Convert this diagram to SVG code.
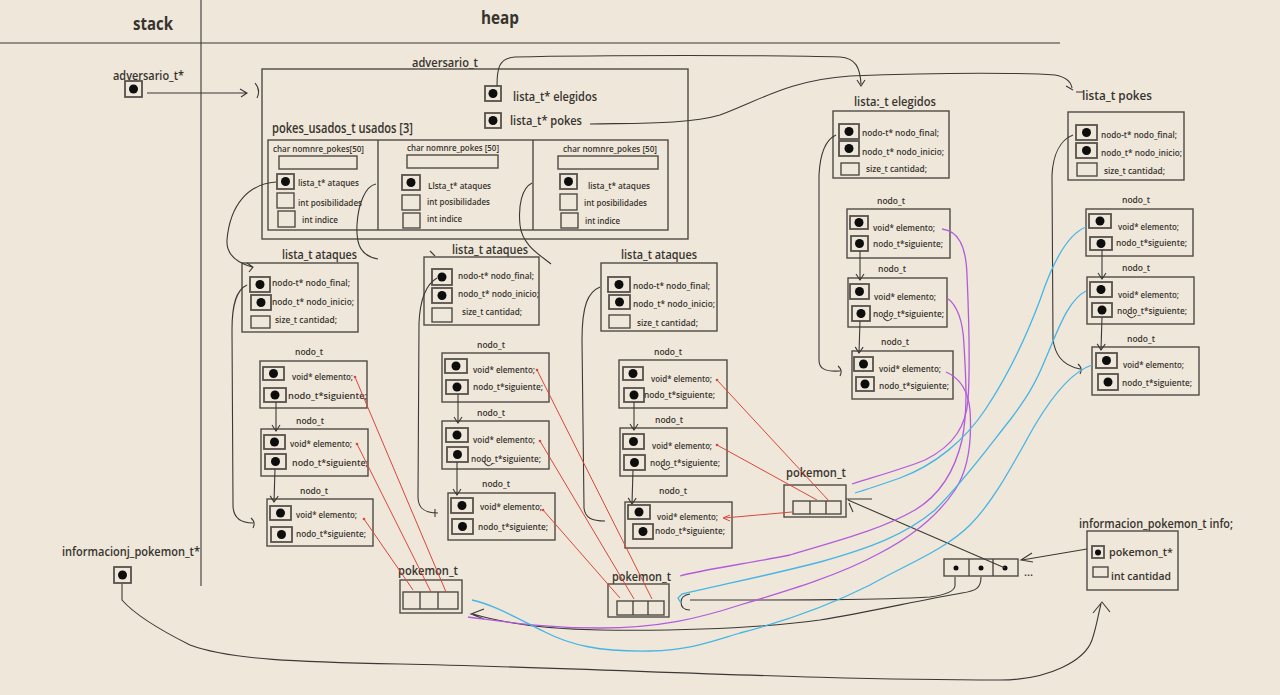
<svg xmlns="http://www.w3.org/2000/svg" width="1280" height="695" viewBox="0 0 1280 695">
<defs>
<style>
.t{font-family:"Open Sans","Noto Sans","Liberation Sans",sans-serif;fill:#37342f;font-weight:600}
.s{font-size:8.5px}
.m{font-size:12.5px}
.L{font-size:17px;font-weight:700}
.b{fill:none;stroke:#4f4b45;stroke-width:1.4}
.db{fill:none;stroke:#57524c;stroke-width:1.8}
.d{fill:#0d0d0d}
.c{fill:none;stroke:#3b3935;stroke-width:1.1}
.r{fill:none;stroke:#d9473c;stroke-width:1}
.rd{fill:#d9473c}
.p{fill:none;stroke:#b25cdc;stroke-width:1.3}
.u{fill:none;stroke:#46b5e6;stroke-width:1.3}
</style>
<marker id="ch" viewBox="-8 -5 10 10" refX="0" refY="0" markerWidth="10" markerHeight="10" markerUnits="userSpaceOnUse" orient="auto"><path d="M-6,-4 L0,0 L-6,4" fill="none" stroke="#3b3935" stroke-width="1.1"/></marker>
</defs>
<rect width="1280" height="695" fill="#efe7d9"/>

<g id="frame">
<path class="c" d="M0,43 L1060,43" stroke-width="1.3"/>
<path class="c" d="M201,0 L201,586" stroke-width="1.3"/>
<text class="t L" x="133" y="30" textLength="40" lengthAdjust="spacingAndGlyphs">stack</text>
<text class="t L" x="481" y="24" textLength="38" lengthAdjust="spacingAndGlyphs">heap</text>
</g>

<g id="stack-adversario">
<text class="t m" x="113" y="80" textLength="71" lengthAdjust="spacingAndGlyphs">adversario_t*</text>
<rect class="db" x="125" y="81" width="17" height="16"/><circle class="d" cx="133.5" cy="89" r="4.5"/>
</g>
<g id="stack-info">
<text class="t m" x="62" y="556" textLength="138" lengthAdjust="spacingAndGlyphs">informacionj_pokemon_t*</text>
<rect class="db" x="114" y="567" width="17" height="16"/><circle class="d" cx="122.5" cy="575" r="4.5"/>
</g>

<g id="adversario">
<text class="t m" x="412" y="67" textLength="66" lengthAdjust="spacingAndGlyphs">adversario_t</text>
<rect class="b" x="262" y="69" width="426" height="170"/>
<rect class="db" x="485" y="86" width="16" height="15"/><circle class="d" cx="493" cy="93.5" r="4.5"/>
<text class="t" font-size="12" x="513" y="101" textLength="84" lengthAdjust="spacingAndGlyphs">lista_t* elegidos</text>
<rect class="db" x="485" y="113" width="16" height="15"/><circle class="d" cx="493" cy="120.5" r="4.5"/>
<text class="t" font-size="12" x="510" y="125" textLength="72" lengthAdjust="spacingAndGlyphs">lista_t* pokes</text>
<text class="t" font-size="13.5" x="272" y="133" textLength="141" lengthAdjust="spacingAndGlyphs">pokes_usados_t usados [3]</text>
<rect class="b" x="268" y="140" width="400" height="90"/>
<path class="b" d="M378,140 L378,230 M533,140 L533,230"/>
<text class="t s" x="273" y="152" textLength="91" lengthAdjust="spacingAndGlyphs">char nomnre_pokes[50]</text>
<rect class="b" x="279" y="156" width="78" height="13"/>
<rect class="db" x="277" y="174" width="17" height="15"/><circle class="d" cx="285.5" cy="181.5" r="4.5"/>
<text class="t s" x="298" y="186" textLength="61" lengthAdjust="spacingAndGlyphs">lista_t* ataques</text>
<rect class="b" x="277" y="193" width="17" height="15"/>
<text class="t s" x="298" y="206" textLength="64" lengthAdjust="spacingAndGlyphs">int posibilidades</text>
<rect class="b" x="278" y="211" width="17" height="16"/>
<text class="t s" x="302" y="223" textLength="36" lengthAdjust="spacingAndGlyphs">int indice</text>
<text class="t s" x="407" y="151" textLength="92" lengthAdjust="spacingAndGlyphs">char nomnre_pokes [50]</text>
<rect class="b" x="407" y="155" width="91" height="13"/>
<rect class="db" x="402" y="175" width="18" height="15"/><circle class="d" cx="411" cy="182.5" r="4.5"/>
<text class="t s" x="428" y="189" textLength="63" lengthAdjust="spacingAndGlyphs">Llsta_t* ataques</text>
<rect class="b" x="402" y="195" width="18" height="15"/>
<text class="t s" x="427" y="205" textLength="63" lengthAdjust="spacingAndGlyphs">int posibilidades</text>
<rect class="b" x="403" y="213" width="17" height="15"/>
<text class="t s" x="427" y="222" textLength="35" lengthAdjust="spacingAndGlyphs">int indice</text>
<text class="t s" x="563" y="152" textLength="94" lengthAdjust="spacingAndGlyphs">char nomnre_pokes [50]</text>
<rect class="b" x="558" y="156" width="100" height="13"/>
<rect class="db" x="560" y="174" width="17" height="15"/><circle class="d" cx="568.5" cy="181.5" r="4.5"/>
<text class="t s" x="588" y="189" textLength="62" lengthAdjust="spacingAndGlyphs">lista_t* ataques</text>
<rect class="b" x="560" y="194" width="17" height="16"/>
<text class="t s" x="584" y="206" textLength="63" lengthAdjust="spacingAndGlyphs">int posibilidades</text>
<rect class="b" x="561" y="213" width="17" height="15"/>
<text class="t s" x="585" y="224" textLength="35" lengthAdjust="spacingAndGlyphs">int indice</text>
</g>

<g id="lista-ataques-1">
<text class="t m" x="282" y="259" textLength="75" lengthAdjust="spacingAndGlyphs">lista_t ataques</text>
<rect class="b" x="242" y="263" width="116" height="69"/>
<rect class="db" x="250" y="277" width="20" height="15"/><circle class="d" cx="260" cy="284.5" r="4.5"/>
<text class="t s" x="272" y="286" textLength="78" lengthAdjust="spacingAndGlyphs">nodo-t* nodo_final;</text>
<rect class="db" x="251" y="295" width="20" height="15"/><circle class="d" cx="261" cy="302.5" r="4.5"/>
<text class="t s" x="272" y="305" textLength="82" lengthAdjust="spacingAndGlyphs">nodo_t* nodo_inicio;</text>
<rect class="b" x="251" y="316" width="19" height="12"/>
<text class="t s" x="275" y="323" textLength="62" lengthAdjust="spacingAndGlyphs">size_t cantidad;</text>
</g>
<g id="nodo-1a">
<text class="t s" x="295" y="355" textLength="28" lengthAdjust="spacingAndGlyphs">nodo_t</text>
<rect class="b" x="260" y="361" width="107" height="47"/>
<rect class="db" x="263" y="367" width="21" height="13"/><circle class="d" cx="273.5" cy="373.5" r="4.5"/>
<text class="t s" x="292" y="380" textLength="61" lengthAdjust="spacingAndGlyphs">void* elemento;</text>
<rect class="db" x="264" y="388" width="22" height="14"/><circle class="d" cx="275" cy="395" r="4.5"/>
<text class="t s" x="288" y="399" textLength="79" lengthAdjust="spacingAndGlyphs">nodo_t*siguiente;</text>
</g>
<g id="nodo-1b">
<text class="t s" x="296" y="424" textLength="28" lengthAdjust="spacingAndGlyphs">nodo_t</text>
<rect class="b" x="261" y="429" width="107" height="47"/>
<rect class="db" x="264" y="435" width="21" height="14"/><circle class="d" cx="274.5" cy="442" r="4.5"/>
<text class="t s" x="290" y="447" textLength="62" lengthAdjust="spacingAndGlyphs">void* elemento;</text>
<rect class="db" x="265" y="454" width="21" height="15"/><circle class="d" cx="275.5" cy="461.5" r="4.5"/>
<text class="t s" x="292" y="466" textLength="76" lengthAdjust="spacingAndGlyphs">nodo_t*siguiente;</text>
</g>
<g id="nodo-1c">
<text class="t s" x="300" y="494" textLength="28" lengthAdjust="spacingAndGlyphs">nodo_t</text>
<rect class="b" x="267" y="499" width="106" height="47"/>
<rect class="db" x="270" y="506" width="21" height="14"/><circle class="d" cx="280.5" cy="513" r="4.5"/>
<text class="t s" x="296" y="518" textLength="61" lengthAdjust="spacingAndGlyphs">void* elemento;</text>
<rect class="db" x="271" y="527" width="21" height="15"/><circle class="d" cx="281.5" cy="534.5" r="4.5"/>
<text class="t s" x="296" y="537" textLength="70" lengthAdjust="spacingAndGlyphs">nodo_t*siguiente;</text>
</g>

<g id="lista-ataques-2">
<text class="t m" x="452" y="254" textLength="76" lengthAdjust="spacingAndGlyphs">lista_t ataques</text>
<rect class="b" x="424" y="257" width="115" height="68"/>
<rect class="db" x="432" y="269" width="20" height="16"/><circle class="d" cx="442" cy="277" r="4.5"/>
<text class="t s" x="458" y="279" textLength="76" lengthAdjust="spacingAndGlyphs">nodo-t* nodo_final;</text>
<rect class="db" x="432" y="288" width="20" height="15"/><circle class="d" cx="442" cy="295.5" r="4.5"/>
<text class="t s" x="458" y="297" textLength="81" lengthAdjust="spacingAndGlyphs">nodo_t* nodo_inicio;</text>
<rect class="b" x="432" y="308" width="20" height="14"/>
<text class="t s" x="462" y="315" textLength="60" lengthAdjust="spacingAndGlyphs">size_t cantidad;</text>
</g>
<g id="nodo-2a">
<text class="t s" x="477" y="348" textLength="28" lengthAdjust="spacingAndGlyphs">nodo_t</text>
<rect class="b" x="442" y="353" width="107" height="49"/>
<rect class="db" x="445" y="359" width="22" height="14"/><circle class="d" cx="456" cy="366" r="4.5"/>
<text class="t s" x="473" y="373" textLength="62" lengthAdjust="spacingAndGlyphs">void* elemento;</text>
<rect class="db" x="446" y="380" width="22" height="14"/><circle class="d" cx="457" cy="387" r="4.5"/>
<text class="t s" x="473" y="390" textLength="70" lengthAdjust="spacingAndGlyphs">nodo_t*siguiente;</text>
</g>
<g id="nodo-2b">
<text class="t s" x="477" y="416" textLength="28" lengthAdjust="spacingAndGlyphs">nodo_t</text>
<rect class="b" x="442" y="421" width="107" height="48"/>
<rect class="db" x="446" y="428" width="22" height="14"/><circle class="d" cx="457" cy="435" r="4.5"/>
<text class="t s" x="473" y="443" textLength="62" lengthAdjust="spacingAndGlyphs">void* elemento;</text>
<rect class="db" x="447" y="447" width="21" height="15"/><circle class="d" cx="457.5" cy="454.5" r="4.5"/>
<text class="t s" x="471" y="462" textLength="70" lengthAdjust="spacingAndGlyphs">nodo_t*siguiente;</text>
<path class="c" d="M484,462 Q488,469 493,463" stroke-width="0.8"/>
</g>
<g id="nodo-2c">
<text class="t s" x="482" y="487" textLength="28" lengthAdjust="spacingAndGlyphs">nodo_t</text>
<rect class="b" x="448" y="493" width="107" height="47"/>
<rect class="db" x="451" y="498" width="22" height="15"/><circle class="d" cx="462" cy="505.5" r="4.5"/>
<text class="t s" x="480" y="510" textLength="62" lengthAdjust="spacingAndGlyphs">void* elemento;</text>
<rect class="db" x="452" y="519" width="21" height="15"/><circle class="d" cx="462.5" cy="526.5" r="4.5"/>
<text class="t s" x="478" y="530" textLength="70" lengthAdjust="spacingAndGlyphs">nodo_t*siguiente;</text>
</g>

<g id="lista-ataques-3">
<text class="t m" x="621" y="259" textLength="76" lengthAdjust="spacingAndGlyphs">lista_t ataques</text>
<rect class="b" x="601" y="263" width="116" height="68"/>
<rect class="db" x="608" y="277" width="22" height="15"/><circle class="d" cx="619" cy="284.5" r="4.5"/>
<text class="t s" x="633" y="289" textLength="77" lengthAdjust="spacingAndGlyphs">nodo-t* nodo_final;</text>
<rect class="db" x="609" y="295" width="21" height="14"/><circle class="d" cx="619.5" cy="302" r="4.5"/>
<text class="t s" x="633" y="307" textLength="82" lengthAdjust="spacingAndGlyphs">nodo_t* nodo_inicio;</text>
<rect class="b" x="609" y="315" width="21" height="13"/>
<text class="t s" x="637" y="326" textLength="61" lengthAdjust="spacingAndGlyphs">size_t cantidad;</text>
</g>
<g id="nodo-3a">
<text class="t s" x="654" y="355" textLength="28" lengthAdjust="spacingAndGlyphs">nodo_t</text>
<rect class="b" x="619" y="360" width="108" height="48"/>
<rect class="db" x="623" y="367" width="20" height="13"/><circle class="d" cx="633" cy="373.5" r="4.5"/>
<text class="t s" x="651" y="382" textLength="61" lengthAdjust="spacingAndGlyphs">void* elemento;</text>
<rect class="db" x="624" y="388" width="20" height="14"/><circle class="d" cx="634" cy="395" r="4.5"/>
<text class="t s" x="644" y="398" textLength="71" lengthAdjust="spacingAndGlyphs">nodo_t*siguiente;</text>
</g>
<g id="nodo-3b">
<text class="t s" x="655" y="423" textLength="28" lengthAdjust="spacingAndGlyphs">nodo_t</text>
<rect class="b" x="620" y="428" width="107" height="48"/>
<rect class="db" x="623" y="434" width="21" height="15"/><circle class="d" cx="633.5" cy="441.5" r="4.5"/>
<text class="t s" x="652" y="449" textLength="60" lengthAdjust="spacingAndGlyphs">void* elemento;</text>
<rect class="db" x="624" y="455" width="21" height="15"/><circle class="d" cx="634.5" cy="462.5" r="4.5"/>
<text class="t s" x="650" y="466" textLength="70" lengthAdjust="spacingAndGlyphs">nodo_t*siguiente;</text>
<path class="c" d="M661,466 Q665,473 670,467" stroke-width="0.8"/>
</g>
<g id="nodo-3c">
<text class="t s" x="659" y="494" textLength="28" lengthAdjust="spacingAndGlyphs">nodo_t</text>
<rect class="b" x="625" y="502" width="107" height="46"/>
<rect class="db" x="628" y="505" width="22" height="14"/><circle class="d" cx="639" cy="512" r="4.5"/>
<text class="t s" x="657" y="520" textLength="61" lengthAdjust="spacingAndGlyphs">void* elemento;</text>
<rect class="db" x="633" y="524" width="20" height="15"/><circle class="d" cx="643" cy="531.5" r="4.5"/>
<text class="t s" x="655" y="534" textLength="70" lengthAdjust="spacingAndGlyphs">nodo_t*siguiente;</text>
</g>

<g id="lista-elegidos">
<text class="t m" x="854" y="106" textLength="82" lengthAdjust="spacingAndGlyphs">lista:_t elegidos</text>
<rect class="b" x="833" y="111" width="116" height="67"/>
<rect class="db" x="839" y="124" width="20" height="15"/><circle class="d" cx="849" cy="131.5" r="4.5"/>
<text class="t s" x="862" y="136" textLength="77" lengthAdjust="spacingAndGlyphs">nodo-t* nodo_final;</text>
<rect class="db" x="839" y="141" width="20" height="15"/><circle class="d" cx="849" cy="148.5" r="4.5"/>
<text class="t s" x="862" y="155" textLength="82" lengthAdjust="spacingAndGlyphs">nodo_t* nodo_inicio;</text>
<rect class="b" x="841" y="163" width="18" height="12"/>
<text class="t s" x="866" y="172" textLength="61" lengthAdjust="spacingAndGlyphs">size_t cantidad;</text>
</g>
<g id="nodo-ea">
<text class="t s" x="877" y="204" textLength="28" lengthAdjust="spacingAndGlyphs">nodo_t</text>
<rect class="b" x="847" y="209" width="103" height="49"/>
<rect class="db" x="850" y="216" width="18" height="13"/><circle class="d" cx="859" cy="222.5" r="4.5"/>
<text class="t s" x="873" y="231" textLength="62" lengthAdjust="spacingAndGlyphs">void* elemento;</text>
<rect class="db" x="851" y="236" width="17" height="15"/><circle class="d" cx="859.5" cy="243.5" r="4.5"/>
<text class="t s" x="873" y="247" textLength="70" lengthAdjust="spacingAndGlyphs">nodo_t*siguiente;</text>
</g>
<g id="nodo-eb">
<text class="t s" x="878" y="272" textLength="28" lengthAdjust="spacingAndGlyphs">nodo_t</text>
<rect class="b" x="848" y="278" width="99" height="49"/>
<rect class="db" x="850" y="284" width="19" height="15"/><circle class="d" cx="859.5" cy="291.5" r="4.5"/>
<text class="t s" x="874" y="300" textLength="62" lengthAdjust="spacingAndGlyphs">void* elemento;</text>
<rect class="db" x="852" y="306" width="18" height="15"/><circle class="d" cx="861" cy="313.5" r="4.5"/>
<text class="t s" x="873" y="317" textLength="71" lengthAdjust="spacingAndGlyphs">nodo_t*siguiente;</text>
<path class="c" d="M883,317 Q887,324 892,318" stroke-width="0.8"/>
</g>
<g id="nodo-ec">
<text class="t s" x="881" y="345" textLength="28" lengthAdjust="spacingAndGlyphs">nodo_t</text>
<rect class="b" x="852" y="351" width="101" height="48"/>
<rect class="db" x="854" y="357" width="19" height="14"/><circle class="d" cx="863.5" cy="364" r="4.5"/>
<text class="t s" x="879" y="372" textLength="62" lengthAdjust="spacingAndGlyphs">void* elemento;</text>
<rect class="db" x="856" y="377" width="18" height="14"/><circle class="d" cx="865" cy="384" r="4.5"/>
<text class="t s" x="879" y="389" textLength="70" lengthAdjust="spacingAndGlyphs">nodo_t*siguiente;</text>
</g>

<g id="lista-pokes">
<text class="t m" x="1082" y="100" textLength="70" lengthAdjust="spacingAndGlyphs">lista_t pokes</text>
<rect class="b" x="1068" y="112" width="116" height="68"/>
<rect class="db" x="1076" y="125" width="21" height="15"/><circle class="d" cx="1086.5" cy="132.5" r="4.5"/>
<text class="t s" x="1101" y="138" textLength="76" lengthAdjust="spacingAndGlyphs">nodo-t* nodo_final;</text>
<rect class="db" x="1076" y="143" width="21" height="15"/><circle class="d" cx="1086.5" cy="150.5" r="4.5"/>
<text class="t s" x="1101" y="156" textLength="81" lengthAdjust="spacingAndGlyphs">nodo_t* nodo_inicio;</text>
<rect class="b" x="1077" y="163" width="20" height="13"/>
<text class="t s" x="1104" y="174" textLength="61" lengthAdjust="spacingAndGlyphs">size_t cantidad;</text>
</g>
<g id="nodo-pa">
<text class="t s" x="1122" y="203" textLength="28" lengthAdjust="spacingAndGlyphs">nodo_t</text>
<rect class="b" x="1086" y="209" width="107" height="47"/>
<rect class="db" x="1089" y="214" width="22" height="14"/><circle class="d" cx="1100" cy="221" r="4.5"/>
<text class="t s" x="1118" y="230" textLength="61" lengthAdjust="spacingAndGlyphs">void* elemento;</text>
<rect class="db" x="1090" y="237" width="22" height="13"/><circle class="d" cx="1101" cy="243.5" r="4.5"/>
<text class="t s" x="1116" y="246" textLength="71" lengthAdjust="spacingAndGlyphs">nodo_t*siguiente;</text>
</g>
<g id="nodo-pb">
<text class="t s" x="1122" y="271" textLength="28" lengthAdjust="spacingAndGlyphs">nodo_t</text>
<rect class="b" x="1087" y="277" width="107" height="47"/>
<rect class="db" x="1090" y="282" width="22" height="15"/><circle class="d" cx="1101" cy="289.5" r="4.5"/>
<text class="t s" x="1118" y="298" textLength="61" lengthAdjust="spacingAndGlyphs">void* elemento;</text>
<rect class="db" x="1092" y="303" width="20" height="14"/><circle class="d" cx="1102" cy="310" r="4.5"/>
<text class="t s" x="1117" y="314" textLength="70" lengthAdjust="spacingAndGlyphs">nodo_t*siguiente;</text>
<path class="c" d="M1127,314 Q1131,321 1136,315" stroke-width="0.8"/>
</g>
<g id="nodo-pc">
<text class="t s" x="1127" y="342" textLength="28" lengthAdjust="spacingAndGlyphs">nodo_t</text>
<rect class="b" x="1092" y="347" width="107" height="48"/>
<rect class="db" x="1096" y="353" width="21" height="15"/><circle class="d" cx="1106.5" cy="360.5" r="4.5"/>
<text class="t s" x="1123" y="368" textLength="61" lengthAdjust="spacingAndGlyphs">void* elemento;</text>
<rect class="db" x="1098" y="374" width="20" height="16"/><circle class="d" cx="1108" cy="382" r="4.5"/>
<text class="t s" x="1122" y="386" textLength="70" lengthAdjust="spacingAndGlyphs">nodo_t*siguiente;</text>
</g>

<g id="pokemon-1">
<text class="t m" x="398" y="575" textLength="60" lengthAdjust="spacingAndGlyphs">pokemon_t</text>
<rect class="b" x="400" y="580" width="62" height="33"/>
<rect class="b" x="403" y="592" width="55" height="17"/>
<path class="b" d="M420,592 L420,609 M438,592 L438,609"/>
</g>
<g id="pokemon-2">
<text class="t m" x="612" y="581" textLength="59" lengthAdjust="spacingAndGlyphs">pokemon_t</text>
<rect class="b" x="608" y="584" width="61" height="33"/>
<rect class="b" x="617" y="601" width="47" height="14"/>
<path class="b" d="M633,601 L633,615 M648,601 L648,615"/>
</g>
<g id="pokemon-3">
<text class="t m" x="786" y="477" textLength="60" lengthAdjust="spacingAndGlyphs">pokemon_t</text>
<rect class="b" x="784" y="485" width="62" height="32"/>
<rect class="b" x="793" y="501" width="48" height="13"/>
<path class="b" d="M810,501 L810,514 M826,501 L826,514"/>
</g>
<g id="array-pokemon">
<rect class="b" x="944" y="559" width="74" height="17"/>
<path class="b" d="M969,559 L969,576 M993,559 L993,576"/>
<circle class="d" cx="956" cy="568" r="2.5"/><circle class="d" cx="981" cy="568" r="2.5"/><circle class="d" cx="1005" cy="568" r="2.5"/>
<text class="t" font-size="11" x="1024" y="576">...</text>
</g>
<g id="informacion-pokemon">
<text class="t m" x="1079" y="528" textLength="154" lengthAdjust="spacingAndGlyphs">informacion_pokemon_t info;</text>
<rect class="b" x="1087" y="531" width="91" height="59"/>
<rect class="db" x="1092" y="546" width="12" height="12"/><circle class="d" cx="1098" cy="552.5" r="3"/>
<text class="t" font-size="11.5" x="1109" y="556" textLength="64" lengthAdjust="spacingAndGlyphs">pokemon_t*</text>
<rect class="b" x="1093" y="567" width="15" height="10"/>
<text class="t" font-size="11.5" x="1111" y="580" textLength="60" lengthAdjust="spacingAndGlyphs">int cantidad</text>
</g>

<g id="connectors">
<path class="c" d="M147,93 L246,93 M240,89 L247,93 L241,97 M255,83 Q261,90 257,98"/>
<path class="c" d="M497,86 C497,70 498,58 515,57 C600,55 780,55 840,57 C856,58 860,68 861,84 M857,80 L861,86 L865,80"/>
<path class="c" d="M590,124 C640,123 690,124 720,115 C760,100 790,80 850,76 C950,72 1030,73 1055,75 C1066,77 1071,82 1072,88 M1066,86 L1073,90 M1076,92 L1084,92"/>
<path class="c" d="M276,182 C248,184 230,205 227,240 C226,255 238,263 252,267 M247,263 L253,267 L249,272"/>
<path class="c" d="M376,184 C365,186 358,205 357,225 C356,245 361,256 378,259"/>
<path class="c" d="M430,251 L435,256"/>
<path class="c" d="M532,183 C522,188 518,205 520,225 C522,245 540,255 551,264"/>
<path class="c" d="M247,285 C236,290 232,305 232,330 L233,505 C233,518 240,523 253,523 M251,518 Q256,522 253,528"/>
<path class="c" d="M437,278 C425,285 420,300 419,323 L418,497 C418,508 424,513 438,513 M435,509 L435,517"/>
<path class="c" d="M600,287 C588,292 582,305 582,340 L584,508 C585,518 592,521 605,521"/>
<path class="c" d="M836,135 C825,140 820,155 819,175 L819,360 C819,368 824,372 840,371 M838,366 Q843,370 840,376"/>
<path class="c" d="M1073,135 C1060,140 1053,155 1052,175 L1053,340 C1055,352 1060,365 1080,369 M1078,364 Q1083,368 1080,374"/>
<path class="c" d="M276,402 L276,431" marker-end="url(#ch)"/>
<path class="c" d="M275,469 L274,502" marker-end="url(#ch)"/>
<path class="c" d="M458,394 L458,423" marker-end="url(#ch)"/>
<path class="c" d="M457,462 L457,495" marker-end="url(#ch)"/>
<path class="c" d="M634,402 L634,430" marker-end="url(#ch)"/>
<path class="c" d="M633,470 L632,504" marker-end="url(#ch)"/>
<path class="c" d="M860,251 L860,280" marker-end="url(#ch)"/>
<path class="c" d="M860,321 L859,353" marker-end="url(#ch)"/>
<path class="c" d="M1102,250 L1102,279" marker-end="url(#ch)"/>
<path class="c" d="M1102,317 L1101,350" marker-end="url(#ch)"/>
<path class="c" d="M1087,549 L1022,560 M1032,553 L1021,560 L1033,562"/>
<path class="c" d="M1005,568 L848,500 M846,499 L872,499 M849,503 L853,512"/>
<path class="c" d="M955,577 L955,586 C954,592 945,595 930,597 C880,600 800,600 690,600 M690,594 C684,595 681,598 681,602 C681,607 684,610 690,610"/>
<path class="c" d="M981,577 C981,588 976,591 962,593 C920,600 870,612 820,620 C760,628 680,631 600,630 C540,629 500,622 473,614 M484,609 L471,614 L484,619"/>
<path class="c" d="M122,584 L122,600 C135,615 160,630 190,645 C230,660 300,662 400,664 C600,668 800,680 1000,680 C1050,680 1085,660 1092,640 C1097,625 1098,615 1101,604 M1093,613 L1102,602 L1110,612"/>
<path class="r" d="M355,377 L446,592 M357,444 L431,592 M364,519 L413,590"/>
<path class="r" d="M537,370 L652,599 M540,441 L634,599 M543,510 L620,598"/>
<path class="r" d="M717,380 L829,501 M717,445 L817,500 M792,512 L724,518 M730,515 L723,518 L730,521"/>
<g class="rd"><circle cx="355" cy="377" r="1.3"/><circle cx="357" cy="444" r="1.3"/><circle cx="364" cy="519" r="1.3"/><circle cx="537" cy="370" r="1.3"/><circle cx="540" cy="441" r="1.3"/><circle cx="543" cy="510" r="1.3"/><circle cx="717" cy="380" r="1.3"/><circle cx="717" cy="445" r="1.3"/></g>
<path class="p" d="M942,229 C958,231 966,245 967,275 C969,320 970,370 968,400 C966,425 955,445 925,460 C900,470 870,478 852,484"/>
<path class="p" d="M947,298 C957,305 963,320 964,345 C966,380 968,410 962,440 C955,470 940,495 915,510 C880,530 840,540 790,555 C740,565 700,570 680,576"/>
<path class="p" d="M946,372 C960,378 968,390 970,410 C972,440 968,470 955,490 C935,520 905,540 880,553 C840,575 790,590 740,605 C700,618 660,628 600,628 C540,628 500,621 468,617"/>
<path class="u" d="M1086,227 C1065,235 1050,270 1040,300 C1025,340 1005,380 985,410 C965,440 935,465 900,478 C880,485 865,490 855,493"/>
<path class="u" d="M1086,291 C1068,300 1058,330 1045,360 C1035,385 1025,400 1010,420 C990,445 965,480 935,510 C905,535 870,548 820,562 C770,575 720,585 682,594 M682,594 L678,598 L681,603"/>
<path class="u" d="M1092,365 C1070,372 1050,400 1035,425 C1015,460 995,500 970,525 C945,550 905,565 870,585 C830,605 790,620 740,633 C710,642 690,650 650,651 C600,652 570,645 545,632 C520,620 495,605 472,600"/>
</g>
</svg>
